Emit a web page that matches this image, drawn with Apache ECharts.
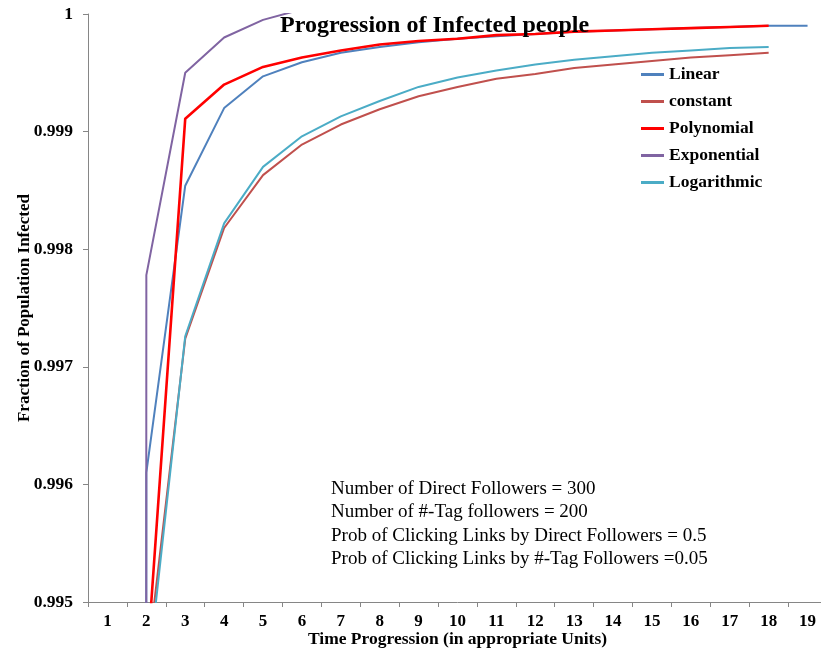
<!DOCTYPE html>
<html>
<head>
<meta charset="utf-8">
<title>Progression of Infected people</title>
<script src="https://cdn.jsdelivr.net/npm/echarts@6/dist/echarts.min.js"></script>
<style>
  html, body { margin: 0; padding: 0; background: #ffffff; overflow: hidden; }
  /* the plot area runs slightly past the right edge of the page */
  #chart { width: 840px; height: 651px; }
</style>
</head>
<body>
<div id="chart"></div>
<script>
// Time steps along the horizontal axis
const timeSteps = ['1','2','3','4','5','6','7','8','9','10','11','12','13','14','15','16','17','18','19'];

// Fraction of the population infected at each step, one array per growth model
const linearValues = [0.002, 0.99610, 0.99854, 0.99920, 0.99947, 0.99959, 0.99967, 0.99972, 0.99976,
  0.99979, 0.99981, 0.99983, 0.99985, 0.99986, 0.99987, 0.99988, 0.99989, 0.99990, 0.99990];
const constantValues = [0.002, 0.99442, 0.99724, 0.99818, 0.99863, 0.99889, 0.99906, 0.99919, 0.99930,
  0.99938, 0.99945, 0.99949, 0.99954, 0.99957, 0.99960, 0.99963, 0.99965, 0.99967];
const polynomialValues = [0.002, 0.99440, 0.99911, 0.99940, 0.99955, 0.99963, 0.99969, 0.99974, 0.99977,
  0.99979, 0.99982, 0.99983, 0.99985, 0.99986, 0.99987, 0.99988, 0.99989, 0.99990];
const exponentialValues = [0.002, 0.99778, 0.99950, 0.99980, 0.99995, 1.00004];
const logarithmicValues = [0.002, 0.99426, 0.99726, 0.99822, 0.99870, 0.99896, 0.99913, 0.99926, 0.99938,
  0.99946, 0.99952, 0.99957, 0.99961, 0.99964, 0.99967, 0.99969, 0.99971, 0.99972];

// Model parameters printed inside the plot
const paramLines = [
  'Number of Direct Followers = 300',
  'Number of #-Tag followers = 200',
  'Prob of Clicking Links by Direct Followers = 0.5',
  'Prob of Clicking Links by #-Tag Followers =0.05'
];

const serif = '"Liberation Serif", "Times New Roman", serif';
const axisGrey = '#868686';

const seriesDefs = [
  { name: 'Linear', data: linearValues, color: '#4F81BD', width: 2 },
  { name: 'constant', data: constantValues, color: '#C0504D', width: 2 },
  { name: 'Polynomial', data: polynomialValues, color: '#FF0000', width: 2.6 },
  { name: 'Exponential', data: exponentialValues, color: '#8064A2', width: 2 },
  { name: 'Logarithmic', data: logarithmicValues, color: '#4BACC6', width: 2 }
];

const chart = echarts.init(document.getElementById('chart'), null, { renderer: 'canvas' });

chart.setOption({
  animation: false,
  backgroundColor: '#ffffff',
  title: {
    text: 'Progression of Infected people',
    left: 280,
    top: 14,
    padding: 0,
    textStyle: { fontFamily: serif, fontSize: 24, fontWeight: 'bold', color: '#000000' }
  },
  legend: {
    orient: 'vertical',
    left: 641,
    top: 61,
    padding: 0,
    itemGap: 0,
    itemWidth: 23,
    itemHeight: 3,
    icon: 'rect',
    data: seriesDefs.map(s => s.name),
    textStyle: { fontFamily: serif, fontSize: 17.5, fontWeight: 'bold', color: '#000000', lineHeight: 27 }
  },
  grid: { left: 88, top: 14, width: 739, height: 588, containLabel: false, outerBoundsMode: 'none' },
  xAxis: {
    type: 'category',
    data: timeSteps,
    boundaryGap: true,
    name: 'Time Progression (in appropriate Units)',
    nameLocation: 'middle',
    nameGap: 28,
    nameMoveOverlap: false,
    nameTextStyle: { fontFamily: serif, fontSize: 17.5, fontWeight: 'bold', color: '#000000' },
    axisLine: { lineStyle: { color: axisGrey, width: 1 } },
    axisTick: { show: true, length: 5, lineStyle: { color: axisGrey } },
    axisLabel: { fontFamily: serif, fontSize: 17, fontWeight: 'bold', color: '#000000', margin: 11 },
    splitLine: { show: false }
  },
  yAxis: {
    type: 'value',
    min: 0.995,
    max: 1,
    interval: 0.001,
    name: 'Fraction of Population Infected',
    nameLocation: 'middle',
    nameGap: 55,
    nameMoveOverlap: false,
    nameTextStyle: { fontFamily: serif, fontSize: 17, fontWeight: 'bold', color: '#000000' },
    axisLine: { show: true, lineStyle: { color: axisGrey, width: 1 } },
    axisTick: { show: true, length: 5, lineStyle: { color: axisGrey } },
    axisLabel: {
      fontFamily: serif, fontSize: 17.5, fontWeight: 'bold', color: '#000000', margin: 15,
      formatter: v => String(+v.toFixed(3))
    },
    splitLine: { show: false }
  },
  series: seriesDefs.map(s => ({
    name: s.name,
    type: 'line',
    data: s.data,
    symbol: 'none',
    clip: true,
    color: s.color,
    lineStyle: { color: s.color, width: s.width },
    itemStyle: { color: s.color }
  })),
  graphic: paramLines.map((t, i) => ({
    type: 'text',
    left: 331,
    top: 479.5 + i * 23.3,
    style: { text: t, font: '19px ' + serif, fill: '#000000' }
  }))
});
</script>
</body>
</html>
